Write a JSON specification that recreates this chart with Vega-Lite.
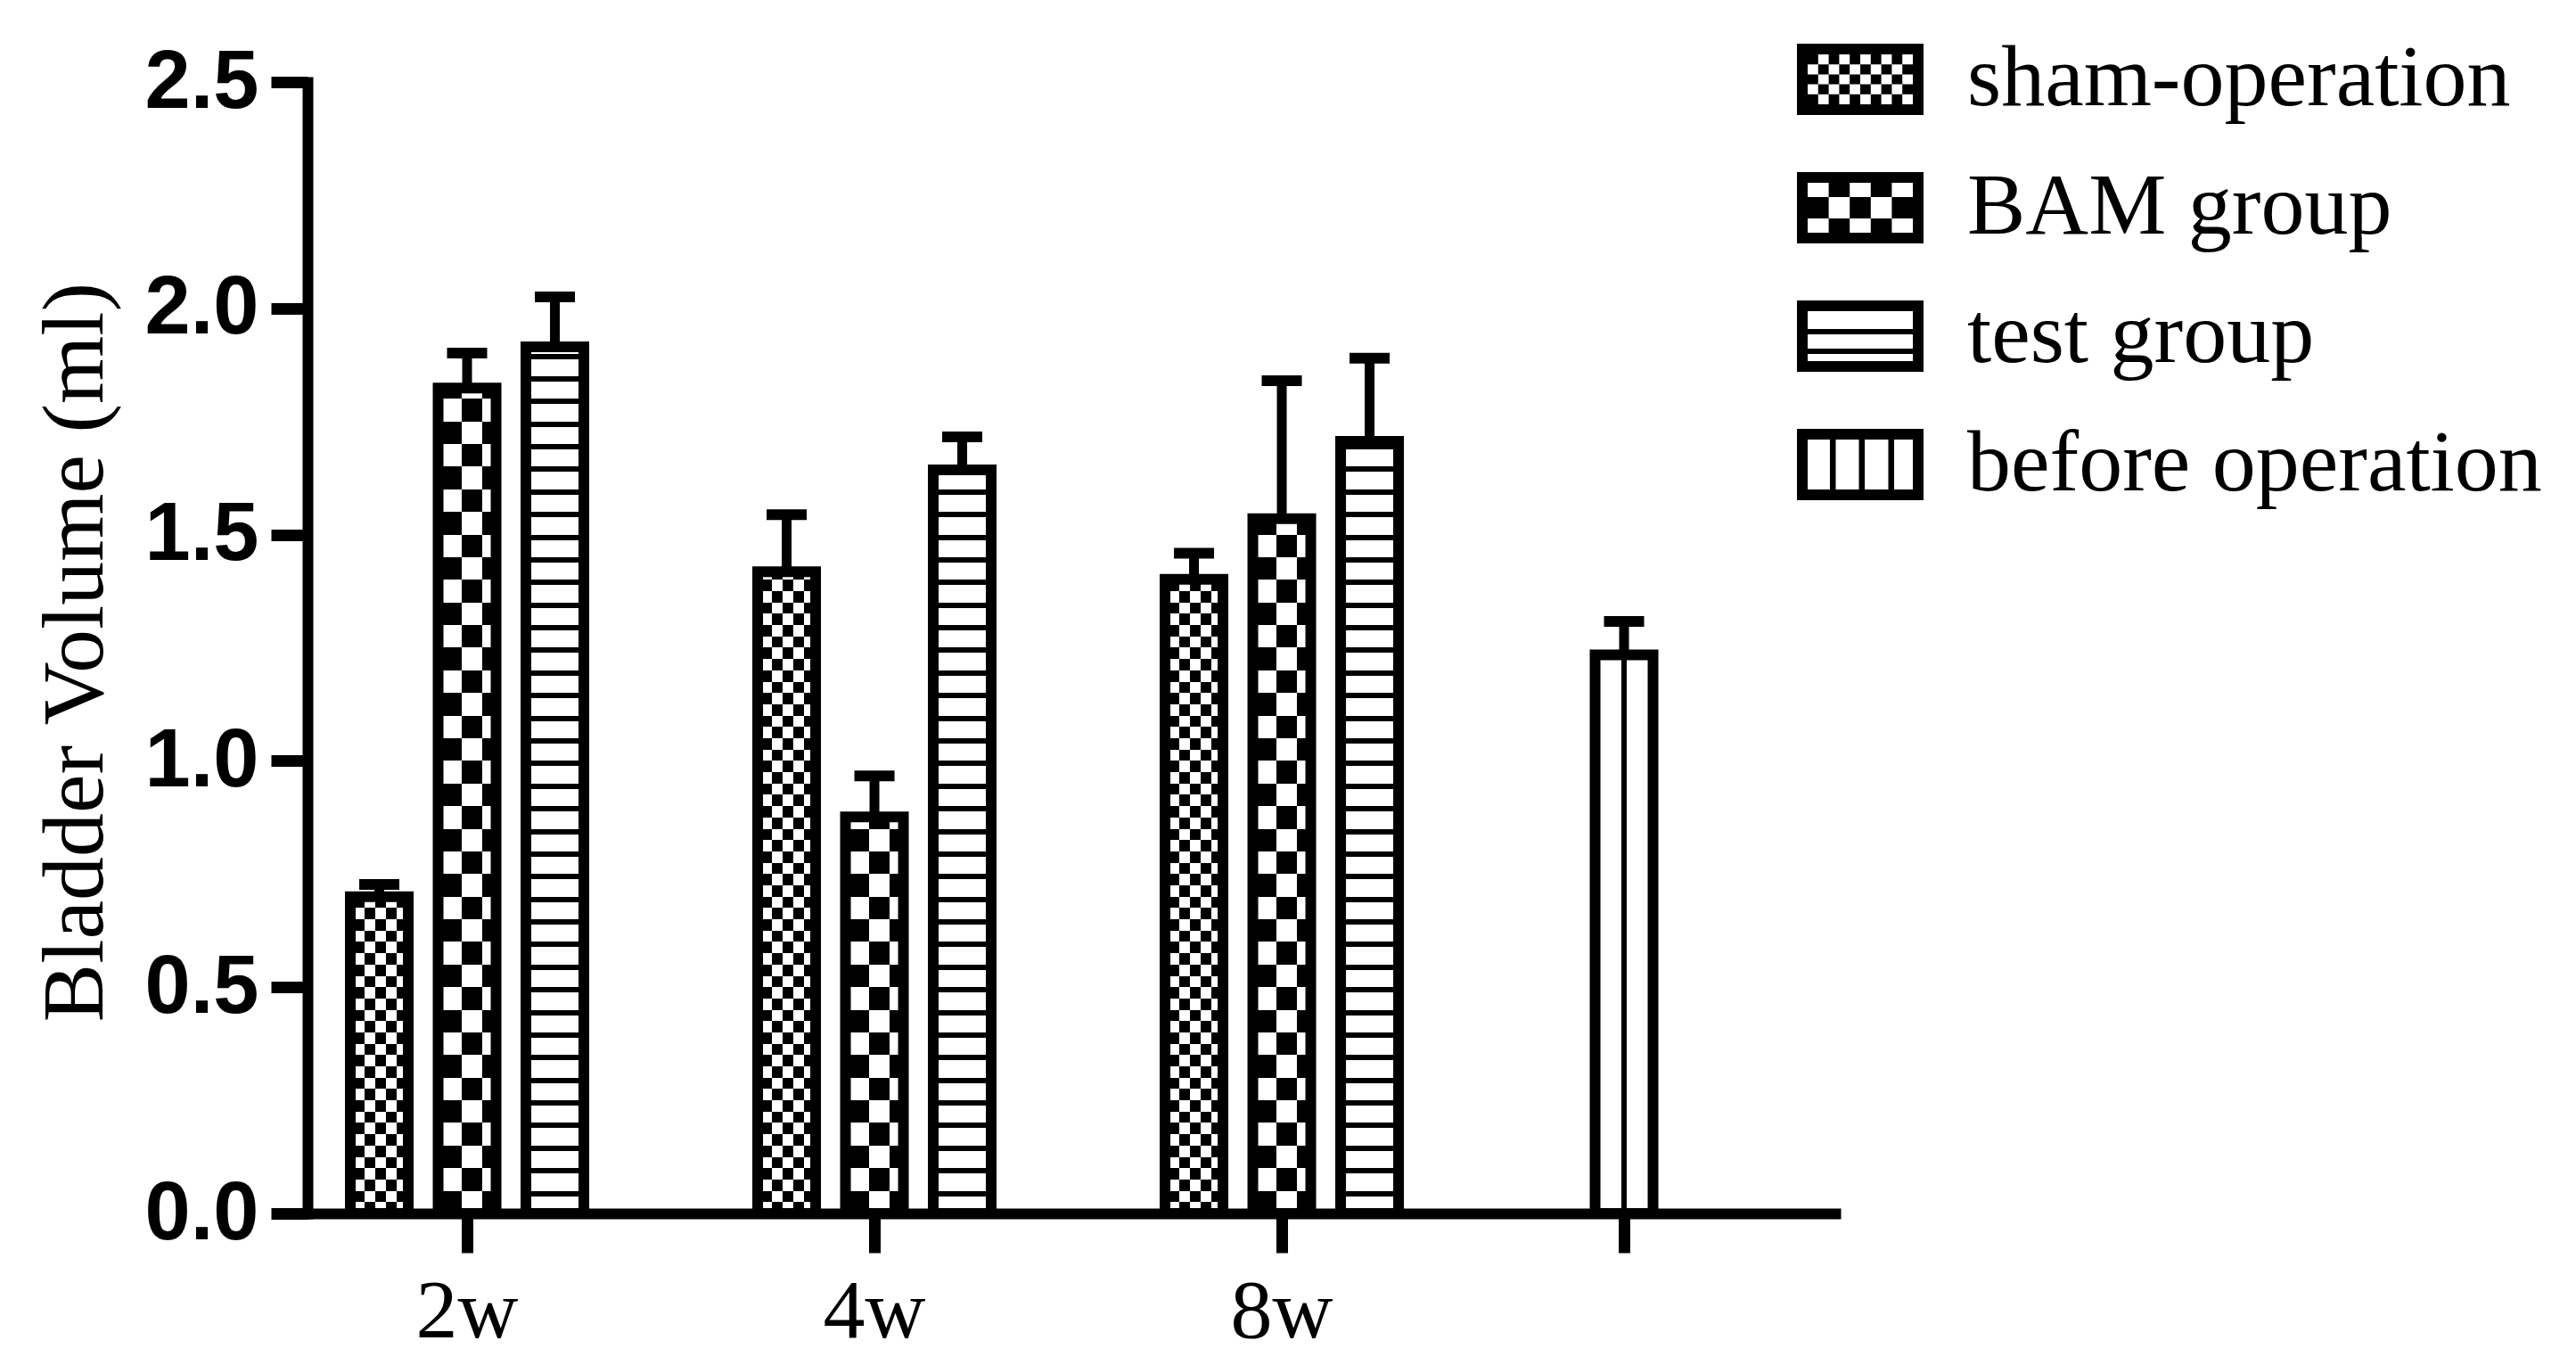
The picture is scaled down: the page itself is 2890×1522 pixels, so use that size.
{
"$schema": "https://vega.github.io/schema/vega-lite/v6.json",
"width": 1714,
"height": 1269,
"autosize": {"type": "none"},
"padding": {"left": 345, "top": 92, "right": 831, "bottom": 161},
"background": "white",
"data": {"values": [
{"week": "2w", "series": "sham-operation", "value": 0.700, "hi": 0.727},
{"week": "2w", "series": "BAM group", "value": 1.824, "hi": 1.901},
{"week": "2w", "series": "test group", "value": 1.915, "hi": 2.025},
{"week": "4w", "series": "sham-operation", "value": 1.418, "hi": 1.544},
{"week": "4w", "series": "BAM group", "value": 0.876, "hi": 0.967},
{"week": "4w", "series": "test group", "value": 1.643, "hi": 1.716},
{"week": "8w", "series": "sham-operation", "value": 1.401, "hi": 1.459},
{"week": "8w", "series": "BAM group", "value": 1.535, "hi": 1.840},
{"week": "8w", "series": "test group", "value": 1.706, "hi": 1.890},
{"week": "pre", "series": "before operation", "value": 1.234, "hi": 1.308}
]},
"layer": [
{
"transform": [{"filter": "datum.series !== 'before operation'"}],
"encoding": {
"x": {"field": "week", "type": "nominal", "scale": {"domain": ["2w", "4w", "8w"], "paddingInner": 0.3534, "paddingOuter": 0.55195, "align": 0.062}, "axis": {"orient": "bottom", "title": null, "labelAngle": 0}},
"xOffset": {"field": "series", "type": "nominal", "scale": {"domain": ["sham-operation", "BAM group", "test group"], "paddingInner": 0.34, "paddingOuter": 0.17}}
},
"layer": [
{
"transform": [{"filter": "datum.series === 'sham-operation'"}],
"mark": {"type": "bar", "fill": {"gradient": "linear", "x1": 0, "y1": 0, "x2": 1, "y2": 0, "stops": [
{"offset": 0, "color": "#000"}, {"offset": 0.2462, "color": "#000"}, {"offset": 0.2462, "color": "#fff"}, {"offset": 0.4308, "color": "#fff"},
{"offset": 0.4308, "color": "#000"}, {"offset": 0.6154, "color": "#000"}, {"offset": 0.6154, "color": "#fff"}, {"offset": 0.8, "color": "#fff"},
{"offset": 0.8, "color": "#000"}, {"offset": 1, "color": "#000"}]}},
"encoding": {"y": {"field": "value", "type": "quantitative", "scale": {"domain": [0, 2.5], "nice": false}, "title": "Bladder Volume (ml)", "axis": {"values": [0, 0.5, 1, 1.5, 2, 2.5], "format": ".1f", "orient": "left"}}}
},
{
"transform": [{"filter": "datum.series === 'BAM group'"}],
"mark": {"type": "bar", "fill": {"gradient": "linear", "x1": 0, "y1": 0, "x2": 1, "y2": 0, "stops": [
{"offset": 0, "color": "#fff"}, {"offset": 0.4, "color": "#fff"}, {"offset": 0.4, "color": "#000"}, {"offset": 0.7538, "color": "#000"},
{"offset": 0.7538, "color": "#fff"}, {"offset": 1, "color": "#fff"}]}},
"encoding": {"y": {"field": "value", "type": "quantitative", "scale": {"domain": [0, 2.5], "nice": false}, "title": "Bladder Volume (ml)"}}
},
{
"transform": [{"filter": "datum.series === 'sham-operation'"}],
"mark": {"type": "bar", "blend": "difference", "fill": {"gradient": "linear", "x1": 0, "y1": 0, "x2": 0, "y2": 1, "stops": [
{"offset":0,"color":"transparent"},{"offset":0.01,"color":"transparent"},{"offset":0.01,"color":"#fff"},{"offset":0.02,"color":"#fff"},
{"offset":0.02,"color":"transparent"},{"offset":0.03,"color":"transparent"},{"offset":0.03,"color":"#fff"},{"offset":0.04,"color":"#fff"},
{"offset":0.04,"color":"transparent"},{"offset":0.05,"color":"transparent"},{"offset":0.05,"color":"#fff"},{"offset":0.06,"color":"#fff"},
{"offset":0.06,"color":"transparent"},{"offset":0.07,"color":"transparent"},{"offset":0.07,"color":"#fff"},{"offset":0.08,"color":"#fff"},
{"offset":0.08,"color":"transparent"},{"offset":0.09,"color":"transparent"},{"offset":0.09,"color":"#fff"},{"offset":0.1,"color":"#fff"},
{"offset":0.1,"color":"transparent"},{"offset":0.11,"color":"transparent"},{"offset":0.11,"color":"#fff"},{"offset":0.12,"color":"#fff"},
{"offset":0.12,"color":"transparent"},{"offset":0.13,"color":"transparent"},{"offset":0.13,"color":"#fff"},{"offset":0.14,"color":"#fff"},
{"offset":0.14,"color":"transparent"},{"offset":0.15,"color":"transparent"},{"offset":0.15,"color":"#fff"},{"offset":0.16,"color":"#fff"},
{"offset":0.16,"color":"transparent"},{"offset":0.17,"color":"transparent"},{"offset":0.17,"color":"#fff"},{"offset":0.18,"color":"#fff"},
{"offset":0.18,"color":"transparent"},{"offset":0.19,"color":"transparent"},{"offset":0.19,"color":"#fff"},{"offset":0.2,"color":"#fff"},
{"offset":0.2,"color":"transparent"},{"offset":0.21,"color":"transparent"},{"offset":0.21,"color":"#fff"},{"offset":0.22,"color":"#fff"},
{"offset":0.22,"color":"transparent"},{"offset":0.23,"color":"transparent"},{"offset":0.23,"color":"#fff"},{"offset":0.24,"color":"#fff"},
{"offset":0.24,"color":"transparent"},{"offset":0.25,"color":"transparent"},{"offset":0.25,"color":"#fff"},{"offset":0.26,"color":"#fff"},
{"offset":0.26,"color":"transparent"},{"offset":0.27,"color":"transparent"},{"offset":0.27,"color":"#fff"},{"offset":0.28,"color":"#fff"},
{"offset":0.28,"color":"transparent"},{"offset":0.29,"color":"transparent"},{"offset":0.29,"color":"#fff"},{"offset":0.3,"color":"#fff"},
{"offset":0.3,"color":"transparent"},{"offset":0.31,"color":"transparent"},{"offset":0.31,"color":"#fff"},{"offset":0.32,"color":"#fff"},
{"offset":0.32,"color":"transparent"},{"offset":0.33,"color":"transparent"},{"offset":0.33,"color":"#fff"},{"offset":0.34,"color":"#fff"},
{"offset":0.34,"color":"transparent"},{"offset":0.35,"color":"transparent"},{"offset":0.35,"color":"#fff"},{"offset":0.36,"color":"#fff"},
{"offset":0.36,"color":"transparent"},{"offset":0.37,"color":"transparent"},{"offset":0.37,"color":"#fff"},{"offset":0.38,"color":"#fff"},
{"offset":0.38,"color":"transparent"},{"offset":0.39,"color":"transparent"},{"offset":0.39,"color":"#fff"},{"offset":0.4,"color":"#fff"},
{"offset":0.4,"color":"transparent"},{"offset":0.41,"color":"transparent"},{"offset":0.41,"color":"#fff"},{"offset":0.42,"color":"#fff"},
{"offset":0.42,"color":"transparent"},{"offset":0.43,"color":"transparent"},{"offset":0.43,"color":"#fff"},{"offset":0.44,"color":"#fff"},
{"offset":0.44,"color":"transparent"},{"offset":0.45,"color":"transparent"},{"offset":0.45,"color":"#fff"},{"offset":0.46,"color":"#fff"},
{"offset":0.46,"color":"transparent"},{"offset":0.47,"color":"transparent"},{"offset":0.47,"color":"#fff"},{"offset":0.48,"color":"#fff"},
{"offset":0.48,"color":"transparent"},{"offset":0.49,"color":"transparent"},{"offset":0.49,"color":"#fff"},{"offset":0.5,"color":"#fff"},
{"offset":0.5,"color":"transparent"},{"offset":0.51,"color":"transparent"},{"offset":0.51,"color":"#fff"},{"offset":0.52,"color":"#fff"},
{"offset":0.52,"color":"transparent"},{"offset":0.53,"color":"transparent"},{"offset":0.53,"color":"#fff"},{"offset":0.54,"color":"#fff"},
{"offset":0.54,"color":"transparent"},{"offset":0.55,"color":"transparent"},{"offset":0.55,"color":"#fff"},{"offset":0.56,"color":"#fff"},
{"offset":0.56,"color":"transparent"},{"offset":0.57,"color":"transparent"},{"offset":0.57,"color":"#fff"},{"offset":0.58,"color":"#fff"},
{"offset":0.58,"color":"transparent"},{"offset":0.59,"color":"transparent"},{"offset":0.59,"color":"#fff"},{"offset":0.6,"color":"#fff"},
{"offset":0.6,"color":"transparent"},{"offset":0.61,"color":"transparent"},{"offset":0.61,"color":"#fff"},{"offset":0.62,"color":"#fff"},
{"offset":0.62,"color":"transparent"},{"offset":0.63,"color":"transparent"},{"offset":0.63,"color":"#fff"},{"offset":0.64,"color":"#fff"},
{"offset":0.64,"color":"transparent"},{"offset":0.65,"color":"transparent"},{"offset":0.65,"color":"#fff"},{"offset":0.66,"color":"#fff"},
{"offset":0.66,"color":"transparent"},{"offset":0.67,"color":"transparent"},{"offset":0.67,"color":"#fff"},{"offset":0.68,"color":"#fff"},
{"offset":0.68,"color":"transparent"},{"offset":0.69,"color":"transparent"},{"offset":0.69,"color":"#fff"},{"offset":0.7,"color":"#fff"},
{"offset":0.7,"color":"transparent"},{"offset":0.71,"color":"transparent"},{"offset":0.71,"color":"#fff"},{"offset":0.72,"color":"#fff"},
{"offset":0.72,"color":"transparent"},{"offset":0.73,"color":"transparent"},{"offset":0.73,"color":"#fff"},{"offset":0.74,"color":"#fff"},
{"offset":0.74,"color":"transparent"},{"offset":0.75,"color":"transparent"},{"offset":0.75,"color":"#fff"},{"offset":0.76,"color":"#fff"},
{"offset":0.76,"color":"transparent"},{"offset":0.77,"color":"transparent"},{"offset":0.77,"color":"#fff"},{"offset":0.78,"color":"#fff"},
{"offset":0.78,"color":"transparent"},{"offset":0.79,"color":"transparent"},{"offset":0.79,"color":"#fff"},{"offset":0.8,"color":"#fff"},
{"offset":0.8,"color":"transparent"},{"offset":0.81,"color":"transparent"},{"offset":0.81,"color":"#fff"},{"offset":0.82,"color":"#fff"},
{"offset":0.82,"color":"transparent"},{"offset":0.83,"color":"transparent"},{"offset":0.83,"color":"#fff"},{"offset":0.84,"color":"#fff"},
{"offset":0.84,"color":"transparent"},{"offset":0.85,"color":"transparent"},{"offset":0.85,"color":"#fff"},{"offset":0.86,"color":"#fff"},
{"offset":0.86,"color":"transparent"},{"offset":0.87,"color":"transparent"},{"offset":0.87,"color":"#fff"},{"offset":0.88,"color":"#fff"},
{"offset":0.88,"color":"transparent"},{"offset":0.89,"color":"transparent"},{"offset":0.89,"color":"#fff"},{"offset":0.9,"color":"#fff"},
{"offset":0.9,"color":"transparent"},{"offset":0.91,"color":"transparent"},{"offset":0.91,"color":"#fff"},{"offset":0.92,"color":"#fff"},
{"offset":0.92,"color":"transparent"},{"offset":0.93,"color":"transparent"},{"offset":0.93,"color":"#fff"},{"offset":0.94,"color":"#fff"},
{"offset":0.94,"color":"transparent"},{"offset":0.95,"color":"transparent"},{"offset":0.95,"color":"#fff"},{"offset":0.96,"color":"#fff"},
{"offset":0.96,"color":"transparent"},{"offset":0.97,"color":"transparent"},{"offset":0.97,"color":"#fff"},{"offset":0.98,"color":"#fff"},
{"offset":0.98,"color":"transparent"},{"offset":0.99,"color":"transparent"},{"offset":0.99,"color":"#fff"},{"offset":1,"color":"#fff"}]}},
"encoding": {"y": {"datum": 2.5, "type": "quantitative", "scale": {"domain": [0, 2.5], "nice": false}, "title": "Bladder Volume (ml)"}, "y2": {"datum": 0}}
},
{
"transform": [{"filter": "datum.series === 'BAM group'"}],
"mark": {"type": "bar", "blend": "difference", "fill": {"gradient": "linear", "x1": 0, "y1": 0, "x2": 0, "y2": 1, "stops": [
{"offset":0,"color":"transparent"},{"offset":0.02,"color":"transparent"},{"offset":0.02,"color":"#fff"},{"offset":0.04,"color":"#fff"},
{"offset":0.04,"color":"transparent"},{"offset":0.06,"color":"transparent"},{"offset":0.06,"color":"#fff"},{"offset":0.08,"color":"#fff"},
{"offset":0.08,"color":"transparent"},{"offset":0.1,"color":"transparent"},{"offset":0.1,"color":"#fff"},{"offset":0.12,"color":"#fff"},
{"offset":0.12,"color":"transparent"},{"offset":0.14,"color":"transparent"},{"offset":0.14,"color":"#fff"},{"offset":0.16,"color":"#fff"},
{"offset":0.16,"color":"transparent"},{"offset":0.18,"color":"transparent"},{"offset":0.18,"color":"#fff"},{"offset":0.2,"color":"#fff"},
{"offset":0.2,"color":"transparent"},{"offset":0.22,"color":"transparent"},{"offset":0.22,"color":"#fff"},{"offset":0.24,"color":"#fff"},
{"offset":0.24,"color":"transparent"},{"offset":0.26,"color":"transparent"},{"offset":0.26,"color":"#fff"},{"offset":0.28,"color":"#fff"},
{"offset":0.28,"color":"transparent"},{"offset":0.3,"color":"transparent"},{"offset":0.3,"color":"#fff"},{"offset":0.32,"color":"#fff"},
{"offset":0.32,"color":"transparent"},{"offset":0.34,"color":"transparent"},{"offset":0.34,"color":"#fff"},{"offset":0.36,"color":"#fff"},
{"offset":0.36,"color":"transparent"},{"offset":0.38,"color":"transparent"},{"offset":0.38,"color":"#fff"},{"offset":0.4,"color":"#fff"},
{"offset":0.4,"color":"transparent"},{"offset":0.42,"color":"transparent"},{"offset":0.42,"color":"#fff"},{"offset":0.44,"color":"#fff"},
{"offset":0.44,"color":"transparent"},{"offset":0.46,"color":"transparent"},{"offset":0.46,"color":"#fff"},{"offset":0.48,"color":"#fff"},
{"offset":0.48,"color":"transparent"},{"offset":0.5,"color":"transparent"},{"offset":0.5,"color":"#fff"},{"offset":0.52,"color":"#fff"},
{"offset":0.52,"color":"transparent"},{"offset":0.54,"color":"transparent"},{"offset":0.54,"color":"#fff"},{"offset":0.56,"color":"#fff"},
{"offset":0.56,"color":"transparent"},{"offset":0.58,"color":"transparent"},{"offset":0.58,"color":"#fff"},{"offset":0.6,"color":"#fff"},
{"offset":0.6,"color":"transparent"},{"offset":0.62,"color":"transparent"},{"offset":0.62,"color":"#fff"},{"offset":0.64,"color":"#fff"},
{"offset":0.64,"color":"transparent"},{"offset":0.66,"color":"transparent"},{"offset":0.66,"color":"#fff"},{"offset":0.68,"color":"#fff"},
{"offset":0.68,"color":"transparent"},{"offset":0.7,"color":"transparent"},{"offset":0.7,"color":"#fff"},{"offset":0.72,"color":"#fff"},
{"offset":0.72,"color":"transparent"},{"offset":0.74,"color":"transparent"},{"offset":0.74,"color":"#fff"},{"offset":0.76,"color":"#fff"},
{"offset":0.76,"color":"transparent"},{"offset":0.78,"color":"transparent"},{"offset":0.78,"color":"#fff"},{"offset":0.8,"color":"#fff"},
{"offset":0.8,"color":"transparent"},{"offset":0.82,"color":"transparent"},{"offset":0.82,"color":"#fff"},{"offset":0.84,"color":"#fff"},
{"offset":0.84,"color":"transparent"},{"offset":0.86,"color":"transparent"},{"offset":0.86,"color":"#fff"},{"offset":0.88,"color":"#fff"},
{"offset":0.88,"color":"transparent"},{"offset":0.9,"color":"transparent"},{"offset":0.9,"color":"#fff"},{"offset":0.92,"color":"#fff"},
{"offset":0.92,"color":"transparent"},{"offset":0.94,"color":"transparent"},{"offset":0.94,"color":"#fff"},{"offset":0.96,"color":"#fff"},
{"offset":0.96,"color":"transparent"},{"offset":0.98,"color":"transparent"},{"offset":0.98,"color":"#fff"},{"offset":1,"color":"#fff"}]}},
"encoding": {"y": {"datum": 2.5, "type": "quantitative", "scale": {"domain": [0, 2.5], "nice": false}, "title": "Bladder Volume (ml)"}, "y2": {"datum": 0}}
},
{
"transform": [{"filter": "datum.series === 'test group'"}],
"mark": {"type": "bar", "fill": {"gradient": "linear", "x1": 0, "y1": 0, "x2": 0, "y2": 1, "stops": [
{"offset":0,"color":"#000"},{"offset":0.0047,"color":"#000"},{"offset":0.0047,"color":"#fff"},{"offset":0.02,"color":"#fff"},
{"offset":0.02,"color":"#000"},{"offset":0.0247,"color":"#000"},{"offset":0.0247,"color":"#fff"},{"offset":0.04,"color":"#fff"},
{"offset":0.04,"color":"#000"},{"offset":0.0447,"color":"#000"},{"offset":0.0447,"color":"#fff"},{"offset":0.06,"color":"#fff"},
{"offset":0.06,"color":"#000"},{"offset":0.0647,"color":"#000"},{"offset":0.0647,"color":"#fff"},{"offset":0.08,"color":"#fff"},
{"offset":0.08,"color":"#000"},{"offset":0.0847,"color":"#000"},{"offset":0.0847,"color":"#fff"},{"offset":0.1,"color":"#fff"},
{"offset":0.1,"color":"#000"},{"offset":0.1047,"color":"#000"},{"offset":0.1047,"color":"#fff"},{"offset":0.12,"color":"#fff"},
{"offset":0.12,"color":"#000"},{"offset":0.1247,"color":"#000"},{"offset":0.1247,"color":"#fff"},{"offset":0.14,"color":"#fff"},
{"offset":0.14,"color":"#000"},{"offset":0.1447,"color":"#000"},{"offset":0.1447,"color":"#fff"},{"offset":0.16,"color":"#fff"},
{"offset":0.16,"color":"#000"},{"offset":0.1647,"color":"#000"},{"offset":0.1647,"color":"#fff"},{"offset":0.18,"color":"#fff"},
{"offset":0.18,"color":"#000"},{"offset":0.1847,"color":"#000"},{"offset":0.1847,"color":"#fff"},{"offset":0.2,"color":"#fff"},
{"offset":0.2,"color":"#000"},{"offset":0.2047,"color":"#000"},{"offset":0.2047,"color":"#fff"},{"offset":0.22,"color":"#fff"},
{"offset":0.22,"color":"#000"},{"offset":0.2247,"color":"#000"},{"offset":0.2247,"color":"#fff"},{"offset":0.24,"color":"#fff"},
{"offset":0.24,"color":"#000"},{"offset":0.2447,"color":"#000"},{"offset":0.2447,"color":"#fff"},{"offset":0.26,"color":"#fff"},
{"offset":0.26,"color":"#000"},{"offset":0.2647,"color":"#000"},{"offset":0.2647,"color":"#fff"},{"offset":0.28,"color":"#fff"},
{"offset":0.28,"color":"#000"},{"offset":0.2847,"color":"#000"},{"offset":0.2847,"color":"#fff"},{"offset":0.3,"color":"#fff"},
{"offset":0.3,"color":"#000"},{"offset":0.3047,"color":"#000"},{"offset":0.3047,"color":"#fff"},{"offset":0.32,"color":"#fff"},
{"offset":0.32,"color":"#000"},{"offset":0.3247,"color":"#000"},{"offset":0.3247,"color":"#fff"},{"offset":0.34,"color":"#fff"},
{"offset":0.34,"color":"#000"},{"offset":0.3447,"color":"#000"},{"offset":0.3447,"color":"#fff"},{"offset":0.36,"color":"#fff"},
{"offset":0.36,"color":"#000"},{"offset":0.3647,"color":"#000"},{"offset":0.3647,"color":"#fff"},{"offset":0.38,"color":"#fff"},
{"offset":0.38,"color":"#000"},{"offset":0.3847,"color":"#000"},{"offset":0.3847,"color":"#fff"},{"offset":0.4,"color":"#fff"},
{"offset":0.4,"color":"#000"},{"offset":0.4047,"color":"#000"},{"offset":0.4047,"color":"#fff"},{"offset":0.42,"color":"#fff"},
{"offset":0.42,"color":"#000"},{"offset":0.4247,"color":"#000"},{"offset":0.4247,"color":"#fff"},{"offset":0.44,"color":"#fff"},
{"offset":0.44,"color":"#000"},{"offset":0.4447,"color":"#000"},{"offset":0.4447,"color":"#fff"},{"offset":0.46,"color":"#fff"},
{"offset":0.46,"color":"#000"},{"offset":0.4647,"color":"#000"},{"offset":0.4647,"color":"#fff"},{"offset":0.48,"color":"#fff"},
{"offset":0.48,"color":"#000"},{"offset":0.4847,"color":"#000"},{"offset":0.4847,"color":"#fff"},{"offset":0.5,"color":"#fff"},
{"offset":0.5,"color":"#000"},{"offset":0.5047,"color":"#000"},{"offset":0.5047,"color":"#fff"},{"offset":0.52,"color":"#fff"},
{"offset":0.52,"color":"#000"},{"offset":0.5247,"color":"#000"},{"offset":0.5247,"color":"#fff"},{"offset":0.54,"color":"#fff"},
{"offset":0.54,"color":"#000"},{"offset":0.5447,"color":"#000"},{"offset":0.5447,"color":"#fff"},{"offset":0.56,"color":"#fff"},
{"offset":0.56,"color":"#000"},{"offset":0.5647,"color":"#000"},{"offset":0.5647,"color":"#fff"},{"offset":0.58,"color":"#fff"},
{"offset":0.58,"color":"#000"},{"offset":0.5847,"color":"#000"},{"offset":0.5847,"color":"#fff"},{"offset":0.6,"color":"#fff"},
{"offset":0.6,"color":"#000"},{"offset":0.6047,"color":"#000"},{"offset":0.6047,"color":"#fff"},{"offset":0.62,"color":"#fff"},
{"offset":0.62,"color":"#000"},{"offset":0.6247,"color":"#000"},{"offset":0.6247,"color":"#fff"},{"offset":0.64,"color":"#fff"},
{"offset":0.64,"color":"#000"},{"offset":0.6447,"color":"#000"},{"offset":0.6447,"color":"#fff"},{"offset":0.66,"color":"#fff"},
{"offset":0.66,"color":"#000"},{"offset":0.6647,"color":"#000"},{"offset":0.6647,"color":"#fff"},{"offset":0.68,"color":"#fff"},
{"offset":0.68,"color":"#000"},{"offset":0.6847,"color":"#000"},{"offset":0.6847,"color":"#fff"},{"offset":0.7,"color":"#fff"},
{"offset":0.7,"color":"#000"},{"offset":0.7047,"color":"#000"},{"offset":0.7047,"color":"#fff"},{"offset":0.72,"color":"#fff"},
{"offset":0.72,"color":"#000"},{"offset":0.7247,"color":"#000"},{"offset":0.7247,"color":"#fff"},{"offset":0.74,"color":"#fff"},
{"offset":0.74,"color":"#000"},{"offset":0.7447,"color":"#000"},{"offset":0.7447,"color":"#fff"},{"offset":0.76,"color":"#fff"},
{"offset":0.76,"color":"#000"},{"offset":0.7647,"color":"#000"},{"offset":0.7647,"color":"#fff"},{"offset":0.78,"color":"#fff"},
{"offset":0.78,"color":"#000"},{"offset":0.7847,"color":"#000"},{"offset":0.7847,"color":"#fff"},{"offset":0.8,"color":"#fff"},
{"offset":0.8,"color":"#000"},{"offset":0.8047,"color":"#000"},{"offset":0.8047,"color":"#fff"},{"offset":0.82,"color":"#fff"},
{"offset":0.82,"color":"#000"},{"offset":0.8247,"color":"#000"},{"offset":0.8247,"color":"#fff"},{"offset":0.84,"color":"#fff"},
{"offset":0.84,"color":"#000"},{"offset":0.8447,"color":"#000"},{"offset":0.8447,"color":"#fff"},{"offset":0.86,"color":"#fff"},
{"offset":0.86,"color":"#000"},{"offset":0.8647,"color":"#000"},{"offset":0.8647,"color":"#fff"},{"offset":0.88,"color":"#fff"},
{"offset":0.88,"color":"#000"},{"offset":0.8847,"color":"#000"},{"offset":0.8847,"color":"#fff"},{"offset":0.9,"color":"#fff"},
{"offset":0.9,"color":"#000"},{"offset":0.9047,"color":"#000"},{"offset":0.9047,"color":"#fff"},{"offset":0.92,"color":"#fff"},
{"offset":0.92,"color":"#000"},{"offset":0.9247,"color":"#000"},{"offset":0.9247,"color":"#fff"},{"offset":0.94,"color":"#fff"},
{"offset":0.94,"color":"#000"},{"offset":0.9447,"color":"#000"},{"offset":0.9447,"color":"#fff"},{"offset":0.96,"color":"#fff"},
{"offset":0.96,"color":"#000"},{"offset":0.9647,"color":"#000"},{"offset":0.9647,"color":"#fff"},{"offset":0.98,"color":"#fff"},
{"offset":0.98,"color":"#000"},{"offset":0.9847,"color":"#000"},{"offset":0.9847,"color":"#fff"},{"offset":1,"color":"#fff"}]}},
"encoding": {"y": {"datum": 2.5, "type": "quantitative", "scale": {"domain": [0, 2.5], "nice": false}, "title": "Bladder Volume (ml)"}, "y2": {"datum": 0}}
},
{
"mark": {"type": "bar", "fill": "#fff", "stroke": "#fff", "strokeWidth": 2},
"encoding": {"y": {"field": "value", "type": "quantitative", "scale": {"domain": [0, 2.5], "nice": false}, "title": "Bladder Volume (ml)"}, "y2": {"datum": 2.5}}
},
{
"mark": {"type": "bar", "fill": "#fff", "fillOpacity": 0, "stroke": "#000", "strokeWidth": 12, "strokeJoin": "miter"},
"encoding": {"y": {"field": "value", "type": "quantitative", "scale": {"domain": [0, 2.5], "nice": false}, "title": "Bladder Volume (ml)"}}
},
{
"mark": {"type": "rule", "color": "#000", "strokeWidth": 11},
"encoding": {"y": {"field": "value", "type": "quantitative", "scale": {"domain": [0, 2.5], "nice": false}, "title": "Bladder Volume (ml)"}, "y2": {"field": "hi"}}
},
{
"mark": {"type": "tick", "color": "#000", "size": 45, "thickness": 12, "opacity": 1},
"encoding": {"y": {"field": "hi", "type": "quantitative", "scale": {"domain": [0, 2.5], "nice": false}, "title": "Bladder Volume (ml)"}}
},
{
"mark": {"type": "point", "filled": true, "color": "#000", "opacity": 0},
"encoding": {
"y": {"field": "value", "type": "quantitative", "scale": {"domain": [0, 2.5], "nice": false}, "title": "Bladder Volume (ml)"},
"shape": {"field": "series", "type": "nominal",
"scale": {"domain": ["sham-operation", "BAM group", "test group", "before operation"],
"range": [
"M-1,-0.5634H1V0.5634H-1Z M-0.831,-0.3944V0.3944H0.831V-0.3944Z M-0.831,-0.3944h0.1662v0.1577h-0.1662Z M-0.4986,-0.3944h0.1662v0.1577h-0.1662Z M-0.1662,-0.3944h0.1662v0.1577h-0.1662Z M0.1662,-0.3944h0.1662v0.1577h-0.1662Z M0.4986,-0.3944h0.1662v0.1577h-0.1662Z M-0.6648,-0.2367h0.1662v0.1577h-0.1662Z M-0.3324,-0.2367h0.1662v0.1577h-0.1662Z M0,-0.2367h0.1662v0.1577h-0.1662Z M0.3324,-0.2367h0.1662v0.1577h-0.1662Z M0.6648,-0.2367h0.1662v0.1577h-0.1662Z M-0.831,-0.079h0.1662v0.1577h-0.1662Z M-0.4986,-0.079h0.1662v0.1577h-0.1662Z M-0.1662,-0.079h0.1662v0.1577h-0.1662Z M0.1662,-0.079h0.1662v0.1577h-0.1662Z M0.4986,-0.079h0.1662v0.1577h-0.1662Z M-0.6648,0.0787h0.1662v0.1577h-0.1662Z M-0.3324,0.0787h0.1662v0.1577h-0.1662Z M0,0.0787h0.1662v0.1577h-0.1662Z M0.3324,0.0787h0.1662v0.1577h-0.1662Z M0.6648,0.0787h0.1662v0.1577h-0.1662Z M-0.831,0.2364h0.1662v0.1577h-0.1662Z M-0.4986,0.2364h0.1662v0.1577h-0.1662Z M-0.1662,0.2364h0.1662v0.1577h-0.1662Z M0.1662,0.2364h0.1662v0.1577h-0.1662Z M0.4986,0.2364h0.1662v0.1577h-0.1662Z",
"M-1,-0.5634H1V0.5634H-1Z M-0.831,-0.3944V0.3944H0.831V-0.3944Z M-0.4986,-0.3944h0.3324v0.2254h-0.3324Z M0.1662,-0.3944h0.3324v0.2254h-0.3324Z M-0.831,-0.169h0.3324v0.338h-0.3324Z M-0.1662,-0.169h0.3324v0.338h-0.3324Z M0.4986,-0.169h0.3324v0.338h-0.3324Z M-0.4986,0.169h0.3324v0.2254h-0.3324Z M0.1662,0.169h0.3324v0.2254h-0.3324Z",
"M-1,-0.5634H1V0.5634H-1Z M-0.831,-0.3944V0.3944H0.831V-0.3944Z M-0.831,-0.1127H0.831V-0.0282H-0.831Z M-0.831,0.1972H0.831V0.2817H-0.831Z",
"M-1,-0.5634H1V0.5634H-1Z M-0.831,-0.3944V0.3944H0.831V-0.3944Z M-0.4789,-0.3944H-0.3874V0.3944H-0.4789Z M-0.0211,-0.3944H0.0704V0.3944H-0.0211Z M0.4437,-0.3944H0.5352V0.3944H0.4437Z"
]},
"legend": {"title": null, "orient": "none", "legendX": 1671, "legendY": -74, "padding": 0, "labelFont": "Liberation Serif", "labelFontSize": 98, "labelColor": "#000", "labelLimit": 2000, "labelOffset": 49, "rowPadding": 24, "symbolSize": 20164, "symbolFillColor": "#000", "symbolStrokeWidth": 0, "symbolOpacity": 1}
}
}
}
]
},
{
"transform": [{"filter": "datum.series === 'before operation'"}],
"encoding": {
"x": {"field": "week", "type": "nominal", "scale": {"domain": ["pre"], "paddingInner": 0.92117, "paddingOuter": 1, "align": 0.876}, "axis": {"orient": "bottom", "title": null, "labelExpr": "''", "domain": false, "labelAngle": 0}}
},
"layer": [
{
"mark": {"type": "bar", "fill": {"gradient": "linear", "x1": 0, "y1": 0, "x2": 1, "y2": 0, "stops": [
{"offset": 0, "color": "#fff"}, {"offset": 0.4538, "color": "#fff"}, {"offset": 0.4538, "color": "#000"}, {"offset": 0.5462, "color": "#000"},
{"offset": 0.5462, "color": "#fff"}, {"offset": 1, "color": "#fff"}]}},
"encoding": {"y": {"field": "value", "type": "quantitative", "scale": {"domain": [0, 2.5], "nice": false}, "title": "Bladder Volume (ml)"}}
},
{
"mark": {"type": "bar", "fill": "#fff", "fillOpacity": 0, "stroke": "#000", "strokeWidth": 12, "strokeJoin": "miter"},
"encoding": {"y": {"field": "value", "type": "quantitative", "scale": {"domain": [0, 2.5], "nice": false}, "title": "Bladder Volume (ml)"}}
},
{
"mark": {"type": "rule", "color": "#000", "strokeWidth": 11},
"encoding": {"y": {"field": "value", "type": "quantitative", "scale": {"domain": [0, 2.5], "nice": false}, "title": "Bladder Volume (ml)"}, "y2": {"field": "hi"}}
},
{
"mark": {"type": "tick", "color": "#000", "size": 45, "thickness": 12, "opacity": 1},
"encoding": {"y": {"field": "hi", "type": "quantitative", "scale": {"domain": [0, 2.5], "nice": false}, "title": "Bladder Volume (ml)"}}
}
]
}
],
"resolve": {"scale": {"x": "independent"}, "axis": {"x": "independent"}},
"config": {
"view": {"stroke": null},
"axis": {"domainColor": "#000", "tickColor": "#000", "labelColor": "#000", "titleColor": "#000", "grid": false, "domainWidth": 12, "domainCap": "square"},
"axisX": {"tickSize": 44, "tickWidth": 13, "labelPadding": 20, "labelFont": "Liberation Serif", "labelFontSize": 94, "labelFontWeight": "normal", "labelAngle": 0},
"axisY": {"tickSize": 41, "tickWidth": 13, "labelPadding": 14, "labelFont": "Liberation Sans, Arial, sans-serif", "labelFontSize": 92, "labelFontWeight": "bold", "titleFont": "Liberation Serif", "titleFontSize": 98, "titleFontWeight": "normal", "titleAngle": 270, "titleAlign": "center", "titleBaseline": "alphabetic", "titleX": -231, "titleY": 639}
}
}
